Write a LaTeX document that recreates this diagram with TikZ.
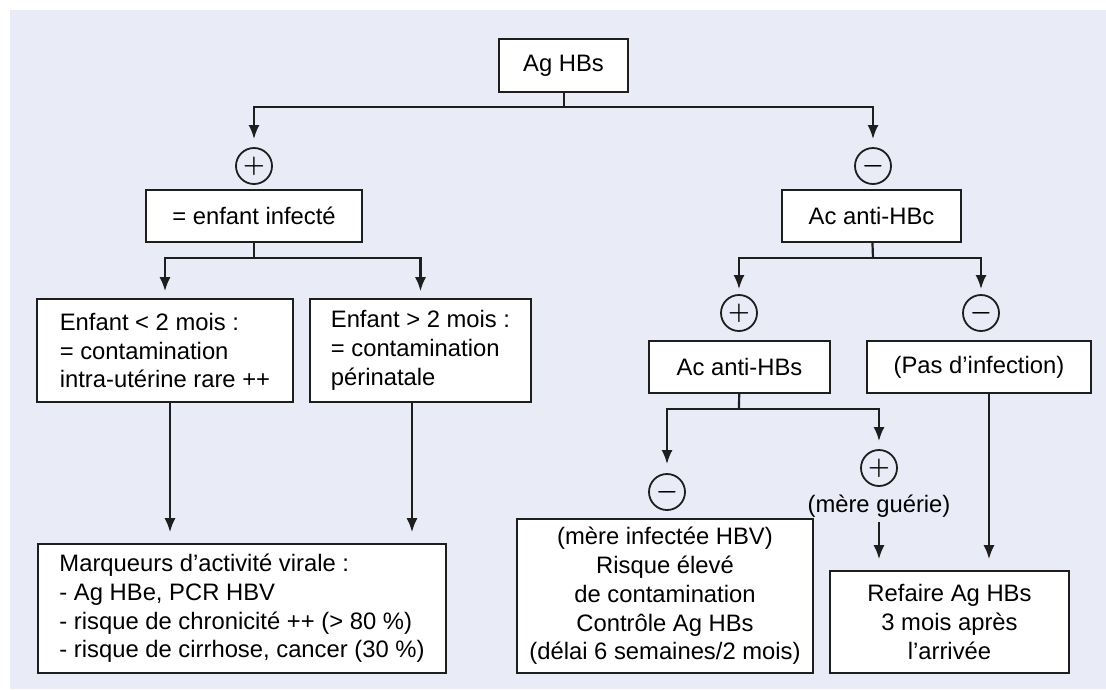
\documentclass[tikz,border=0pt]{standalone}
\usepackage{fontspec}
\setmainfont{Liberation Sans}
\usetikzlibrary{arrows.meta}
\usetikzlibrary{positioning}
\definecolor{fond}{RGB}{233,235,246}
\definecolor{trait}{RGB}{30,30,30}
\tikzset{box/.style = {draw = trait, fill = white, line width = 1.6pt, inner sep = 0, align = center}}
\tikzset{circ/.style = {draw = trait, circle, inner sep = 0, minimum size = 36, line width = 1.8pt,
    font = \fontsize{33}{33}\selectfont\boldmath}}
\tikzset{lien/.style = {draw = trait, line width = 2.2pt}}
\tikzset{arr/.style = {lien, -{Latex[length = 14pt, width = 11pt]}}}

\begin{document}
\begin{tikzpicture}[x = 1pt, y = -1pt, font = \fontsize{23.8}{28.7}\selectfont]
          \fill [fond] (10, 10) rectangle (1106, 689);
          \useasboundingbox (0, 0) rectangle (1106, 689);

          \node [box, minimum width = 129, minimum height = 53] (agHBs) at (563.5, 65.5) {Ag HBs};

          \node [circ] (pos1) at (254, 166) {$+$};
          \node [circ] (neg1) at (873, 166) {$-$};

          \node [box, minimum width = 216, minimum height = 52] (infecte) at (254, 216) {= enfant infecté};
          \node [box, minimum width = 179, minimum height = 52] (antiHBc) at (871.5, 216) {Ac anti-HBc};

          \node [box, align = left, minimum width = 256, minimum height = 103] (avant2) at (165, 350.5)
            {Enfant < 2 mois :\\= contamination\\intra-utérine rare ++};
          \node [box, align = left, minimum width = 221, minimum height = 103] (apres2) at (420.5, 350.5)
            {Enfant > 2 mois :\\= contamination\\périnatale};
          \node [box, align = left, minimum width = 408, minimum height = 129] (marqueurs) at (242, 608.5)
            {Marqueurs d’activité virale :\\- Ag HBe, PCR HBV\\- risque de chronicité ++ (> 80~\%)\\- risque de cirrhose, cancer (30~\%)};

          \node [circ] (pos2) at (739, 313) {$+$};
          \node [circ] (neg2) at (981, 313) {$-$};

          \node [box, minimum width = 181, minimum height = 52] (antiHBs) at (739.5, 367) {Ac anti-HBs};
          \node [box, minimum width = 224, minimum height = 52] (pasinf) at (979, 367) {(Pas d’infection)};

          \node [circ] (neg3) at (667, 492) {$-$};
          \node [circ] (pos3) at (879, 468) {$+$};
          \node [inner sep = 2] (guerie) at (879, 506) {(mère guérie)};

          \node [box, minimum width = 296, minimum height = 154] (mere) at (665, 596)
            {(mère infectée HBV)\\Risque élevé\\de contamination\\Contrôle Ag HBs\\(délai 6 semaines/2 mois)};
          \node [box, minimum width = 239, minimum height = 102] (refaire) at (949.5, 622)
            {Refaire Ag HBs\\3 mois après\\l’arrivée};

          \coordinate (c1) at (564, 107);
          \coordinate (c2) at (254, 258);
          \coordinate (c3) at (873, 258);
          \coordinate (c4) at (739, 409);

          \draw [lien] (agHBs.south -| c1) -- (c1);
          \draw [arr, shorten >= 8] (c1) -| (pos1);
          \draw [arr, shorten >= 8] (c1) -| (neg1);

          \draw [lien] (infecte) -- (c2);
          \draw [arr, shorten >= 7] (c2) -| (avant2);
          \draw [arr, shorten >= 7] (c2) -| (apres2);
          \draw [arr, shorten >= 11] ([xshift = 5] avant2.south) -- ([xshift = 5] avant2.south |- marqueurs.north);
          \draw [arr, shorten >= 11] ([xshift = -8.5] apres2.south) -- ([xshift = -8.5] apres2.south |- marqueurs.north);

          \draw [lien] (antiHBc) -- (c3);
          \draw [arr, shorten >= 5] (c3) -| (pos2);
          \draw [arr, shorten >= 5] (c3) -| (neg2);

          \draw [lien] (antiHBs) -- (c4);
          \draw [arr, shorten >= 9] (c4) -| (neg3);
          \draw [arr, shorten >= 8] (c4) -| (pos3);

          \draw [arr, shorten <= 3, shorten >= 11] (guerie.south) -- (guerie.south |- refaire.north);
          \draw [arr, shorten >= 11] ([xshift = 10] pasinf.south) -- ([xshift = 10] pasinf.south |- refaire.north);
        \end{tikzpicture}
\end{document}
